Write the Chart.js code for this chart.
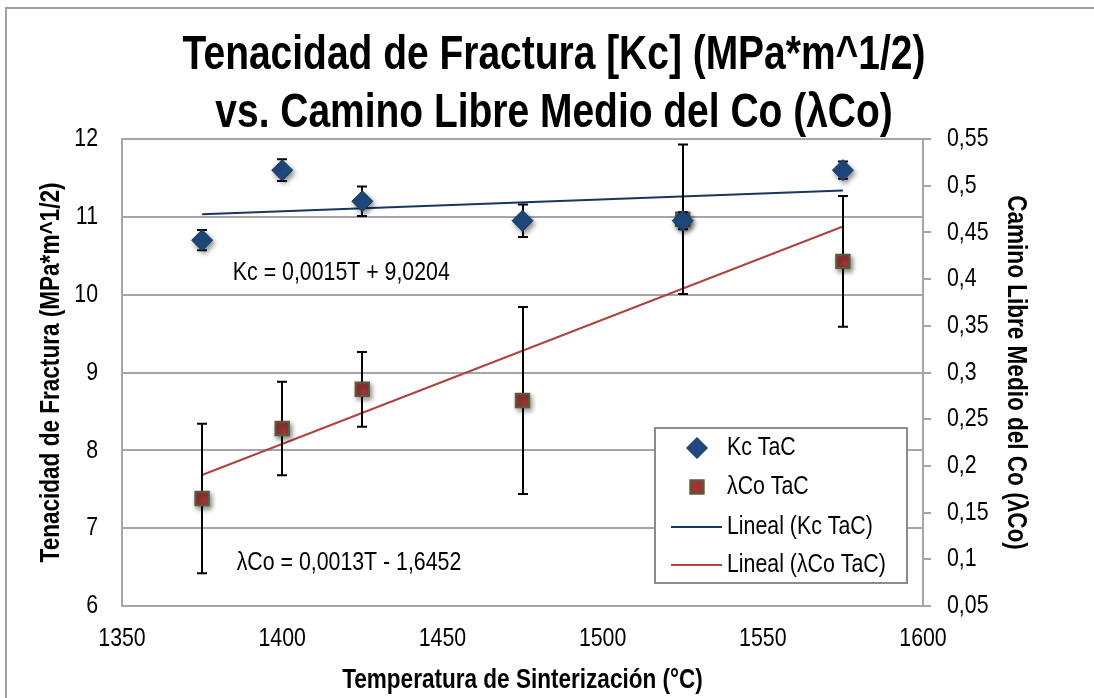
<!DOCTYPE html>
<html>
<head>
<meta charset="utf-8">
<script src="https://cdn.jsdelivr.net/npm/chart.js@4.4.1/dist/chart.umd.min.js"></script>
<style>
  html, body { margin: 0; padding: 0; background: #fff; overflow: hidden; }
  #wrap { width: 1094px; height: 698px; }
</style>
</head>
<body>
<div id="wrap"><canvas id="chart"></canvas></div>
<script>
const temps = [1375, 1400, 1425, 1475, 1525, 1575];
const kcValues = [10.7, 11.6, 11.2, 10.95, 10.95, 11.6];
const kcErrors = [0.13, 0.14, 0.19, 0.21, 0.11, 0.11];
const lcoValues = [0.165, 0.24, 0.282, 0.27, 0.464, 0.419];
const lcoErrors = [0.08, 0.05, 0.04, 0.1, 0.08, 0.07];

const xRange = [1350, 1600, 50];
const kcRange = [6, 12, 1];
const lcoRange = [0.05, 0.55, 0.05];

const titleLines = ['Tenacidad de Fractura [Kc] (MPa*m^1/2)', 'vs. Camino Libre Medio del Co (λCo)'];
const kcEquation = 'Kc = 0,0015T + 9,0204';
const lcoEquation = 'λCo = 0,0013T - 1,6452';

const FONT = "'Liberation Sans', Arial, sans-serif";
const NARROW = 0.82; // Arial Narrow is Arial squeezed to ~82%
const GRID = '#a6a6a6';
const NAVY = '#1F497D';
const RED = '#9B3636';

// least squares, like the spreadsheet trendline
function linearFit(xs, ys) {
  const n = xs.length;
  const mx = xs.reduce((a, b) => a + b, 0) / n;
  const my = ys.reduce((a, b) => a + b, 0) / n;
  let sxy = 0, sxx = 0;
  for (let i = 0; i < n; i++) {
    sxy += (xs[i] - mx) * (ys[i] - my);
    sxx += (xs[i] - mx) * (xs[i] - mx);
  }
  const slope = sxy / sxx;
  return x => my + slope * (x - mx);
}

function trendPoints(xs, ys) {
  const f = linearFit(xs, ys);
  const first = xs[0], last = xs[xs.length - 1];
  return [{ x: first, y: f(first) }, { x: last, y: f(last) }];
}

const toPoints = (xs, ys) => xs.map((x, i) => ({ x: x, y: ys[i] }));

// no narrow font installed, so squeeze every text the canvas draws
const canvas = document.getElementById('chart');
const ctx2d = canvas.getContext('2d');
const rawFillText = ctx2d.fillText.bind(ctx2d);
const rawMeasure = ctx2d.measureText.bind(ctx2d);
ctx2d.fillText = function(text, x, y) {
  this.save();
  this.translate(x, y);
  this.scale(NARROW, 1);
  rawFillText(text, 0, 0);
  this.restore();
};
ctx2d.measureText = function(text) {
  const m = rawMeasure(text);
  return {
    width: m.width * NARROW,
    actualBoundingBoxAscent: m.actualBoundingBoxAscent,
    actualBoundingBoxDescent: m.actualBoundingBoxDescent
  };
};

Chart.defaults.font.family = FONT;
Chart.defaults.color = '#000';

const framePlugin = {
  id: 'frame',
  beforeDraw(chart) {
    const ctx = chart.ctx;
    ctx.save();
    ctx.fillStyle = '#fff';
    ctx.fillRect(0, 0, chart.width, chart.height);
    ctx.strokeStyle = '#a0a0a0';
    ctx.lineWidth = 2;
    ctx.strokeRect(6, 8, chart.width + 20, chart.height + 20);
    ctx.restore();
  }
};

const errorBarPlugin = {
  id: 'errorBars',
  beforeDatasetDraw(chart, args) {
    const ds = chart.data.datasets[args.index];
    if (!ds.errorBars) return;
    const ctx = chart.ctx;
    const xs = chart.scales.x;
    const ys = chart.scales[ds.yAxisID];
    ctx.save();
    ctx.strokeStyle = '#000';
    ctx.lineWidth = 2;
    ds.data.forEach((p, i) => {
      const e = ds.errorBars[i];
      const px = Math.round(xs.getPixelForValue(p.x));
      const top = ys.getPixelForValue(p.y + e);
      const bot = ys.getPixelForValue(p.y - e);
      ctx.beginPath();
      ctx.moveTo(px, top);
      ctx.lineTo(px, bot);
      ctx.moveTo(px - 5, top);
      ctx.lineTo(px + 5, top);
      ctx.moveTo(px - 5, bot);
      ctx.lineTo(px + 5, bot);
      ctx.stroke();
    });
    ctx.restore();
    // soft shadow under the markers
    ctx.save();
    ctx.shadowColor = 'rgba(0,0,0,0.45)';
    ctx.shadowBlur = 5;
    ctx.shadowOffsetX = 2;
    ctx.shadowOffsetY = 3;
  },
  afterDatasetDraw(chart, args) {
    const ds = chart.data.datasets[args.index];
    if (!ds.errorBars) return;
    chart.ctx.restore();
  }
};

const decorPlugin = {
  id: 'decor',
  afterDraw(chart) {
    const ctx = chart.ctx;
    const area = chart.chartArea;
    const x = chart.scales.x, y = chart.scales.y;
    ctx.save();

    // title
    ctx.fillStyle = '#000';
    ctx.textAlign = 'center';
    ctx.textBaseline = 'middle';
    ctx.font = 'bold 47.5px ' + FONT;
    ctx.fillText(titleLines[0], 554, 56);
    ctx.fillText(titleLines[1], 554, 114);

    // trendline equations
    ctx.textAlign = 'left';
    ctx.font = '26px ' + FONT;
    ctx.fillText(kcEquation, x.getPixelForValue(1384.6), y.getPixelForValue(10.28));
    ctx.fillText(lcoEquation, x.getPixelForValue(1385.8), y.getPixelForValue(6.55));

    // legend box
    const lx = area.right - 268, ly = area.bottom - 178, lw = 252, lh = 155;
    ctx.fillStyle = '#fff';
    ctx.fillRect(lx, ly, lw, lh);
    ctx.strokeStyle = '#8c8c8c';
    ctx.lineWidth = 2;
    ctx.strokeRect(lx, ly, lw, lh);

    const rowY = [ly + 20, ly + 59, ly + 99, ly + 137];
    chart.data.datasets.forEach((ds, i) => {
      const cy = rowY[i];
      if (ds.type === 'line') {
        ctx.strokeStyle = ds.borderColor;
        ctx.lineWidth = 2;
        ctx.beginPath();
        ctx.moveTo(lx + 16, cy);
        ctx.lineTo(lx + 67, cy);
        ctx.stroke();
      } else {
        ctx.fillStyle = ds.pointBackgroundColor;
        ctx.strokeStyle = ds.pointBorderColor;
        ctx.lineWidth = ds.pointBorderWidth;
        Chart.helpers.drawPoint(ctx, {
          pointStyle: ds.pointStyle,
          radius: ds.pointRadius,
          rotation: 0,
          borderWidth: ds.pointBorderWidth
        }, lx + 42, cy);
      }
      ctx.fillStyle = '#000';
      ctx.font = '26px ' + FONT;
      ctx.textBaseline = 'middle';
      ctx.fillText(ds.label, lx + 72, cy);
    });
    ctx.restore();
  }
};

const commaLabel = v => String(Math.round(v * 100) / 100).replace('.', ',');

new Chart(canvas, {
  type: 'scatter',
  data: {
    datasets: [
      {
        label: 'Kc TaC',
        data: toPoints(temps, kcValues),
        errorBars: kcErrors,
        yAxisID: 'y',
        pointStyle: 'rectRot',
        pointRadius: 10.5,
        pointHoverRadius: 10.5,
        pointBackgroundColor: NAVY,
        pointBorderColor: '#17365D',
        pointBorderWidth: 1
      },
      {
        label: 'λCo TaC',
        data: toPoints(temps, lcoValues),
        errorBars: lcoErrors,
        yAxisID: 'y2',
        pointStyle: 'rect',
        pointRadius: 9.5,
        pointHoverRadius: 9.5,
        pointBackgroundColor: RED,
        pointBorderColor: '#5E5A3C',
        pointBorderWidth: 2
      },
      {
        type: 'line',
        label: 'Lineal (Kc TaC)',
        data: trendPoints(temps, kcValues),
        yAxisID: 'y',
        borderColor: '#17375E',
        borderWidth: 2,
        pointRadius: 0,
        fill: false
      },
      {
        type: 'line',
        label: 'Lineal (λCo TaC)',
        data: trendPoints(temps, lcoValues),
        yAxisID: 'y2',
        borderColor: '#B04340',
        borderWidth: 2,
        pointRadius: 0,
        fill: false
      }
    ]
  },
  options: {
    responsive: true,
    maintainAspectRatio: false,
    animation: false,
    layout: { padding: { top: 139, left: 0, right: 0, bottom: 0 } },
    plugins: {
      legend: { display: false },
      title: { display: false },
      tooltip: { enabled: false }
    },
    scales: {
      x: {
        type: 'linear',
        min: xRange[0],
        max: xRange[1],
        afterFit(scale) { scale.height = 92; },
        grid: { drawOnChartArea: false, drawTicks: false },
        border: { display: true, color: GRID, width: 2 },
        ticks: {
          stepSize: xRange[2],
          padding: 17,
          font: { size: 26 },
          color: '#000',
          maxRotation: 0,
          callback: v => String(v)
        },
        title: {
          display: true,
          text: 'Temperatura de Sinterización (°C)',
          font: { size: 27.5, weight: 'bold' },
          color: '#000',
          padding: { top: 0, bottom: 1 }
        }
      },
      y: {
        position: 'left',
        min: kcRange[0],
        max: kcRange[1],
        afterFit(scale) { scale.width = 122; },
        grid: { color: GRID, lineWidth: 2, drawTicks: false },
        border: { display: true, color: GRID, width: 2 },
        ticks: {
          stepSize: kcRange[2],
          padding: 24,
          font: { size: 26 },
          color: '#000'
        },
        title: {
          display: true,
          text: 'Tenacidad de Fractura (MPa*m^1/2)',
          font: { size: 27.5, weight: 'bold' },
          color: '#000',
          padding: { top: 35, bottom: 0 }
        }
      },
      y2: {
        position: 'right',
        min: lcoRange[0],
        max: lcoRange[1],
        afterFit(scale) { scale.width = 171; },
        grid: { drawOnChartArea: false, drawTicks: true, tickLength: 8, color: GRID, lineWidth: 2 },
        border: { display: true, color: GRID, width: 2 },
        ticks: {
          stepSize: lcoRange[2],
          padding: 16,
          font: { size: 26 },
          color: '#000',
          callback: v => commaLabel(v)
        },
        title: {
          display: true,
          text: 'Camino Libre Medio del Co (λCo)',
          font: { size: 27.5, weight: 'bold' },
          color: '#000',
          padding: { top: 62, bottom: 0 }
        }
      }
    }
  },
  plugins: [framePlugin, errorBarPlugin, decorPlugin]
});
</script>
</body>
</html>
